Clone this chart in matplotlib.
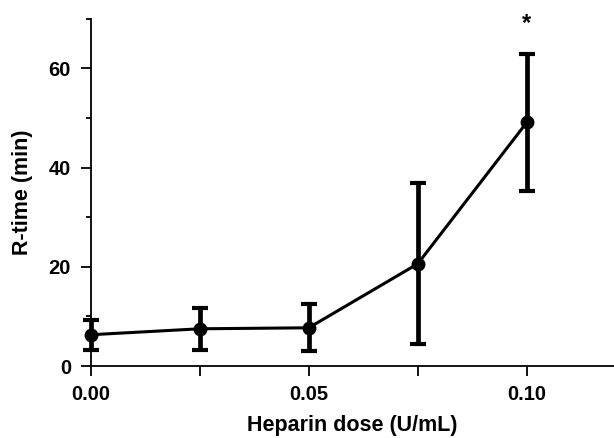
import matplotlib
matplotlib.use("Agg")
import matplotlib.pyplot as plt
from matplotlib.ticker import MultipleLocator, FixedLocator

# Values
dose = [0.0, 0.025, 0.05, 0.075, 0.10]
rtime = [6.3, 7.5, 7.7, 20.6, 49.1]
err = [3.0, 4.2, 4.7, 16.2, 13.8]
sig_dose = [0.10]
sig_label = ["*"]

plt.rcParams['font.family'] = ['Liberation Sans', 'DejaVu Sans']
plt.rcParams['font.weight'] = 'bold'

fig = plt.figure(figsize=(6.14, 4.38), dpi=100)
# axes placed in pixel terms: left 90.7, right 614, bottom 366, top 18.7 (of 614x438)
ax = fig.add_axes([90.7 / 614, (438 - 366) / 438, (614 - 90.7) / 614, (366 - 18.7) / 438])

ax.errorbar(dose, rtime, yerr=err, color='black', linewidth=2.2,
            elinewidth=3.4, capsize=6, capthick=3,
            marker='o', markersize=9, zorder=3, clip_on=False)

for xd, lab in zip(sig_dose, sig_label):
    ax.text(xd, 69, lab, ha='center', va='center', fontsize=17, fontweight='bold')

ax.set_xlim(0, 0.12)
ax.set_ylim(0, 70)

ax.xaxis.set_major_locator(FixedLocator([0.0, 0.05, 0.10]))
ax.xaxis.set_minor_locator(FixedLocator([0.025, 0.075]))
ax.set_xticklabels(['0.00', '0.05', '0.10'])
ax.yaxis.set_major_locator(MultipleLocator(20))
ax.yaxis.set_minor_locator(FixedLocator([10, 30, 50, 70]))

for side in ['top', 'right']:
    ax.spines[side].set_visible(False)
for side in ['left', 'bottom']:
    ax.spines[side].set_linewidth(1.3)

ax.tick_params(axis='both', which='both', direction='out', width=1.3, labelsize=14.5)
ax.tick_params(axis='x', which='both', length=7, pad=6.5)
ax.tick_params(axis='y', which='major', length=7.2, pad=7)
ax.tick_params(axis='y', which='minor', length=3.6)

ax.set_xlabel('Heparin dose (U/mL)', fontsize=15.5, fontweight='bold', labelpad=8)
ax.set_ylabel('R-time (min)', fontsize=15.5, fontweight='bold', labelpad=11)

fig.savefig('out.png', dpi=100)
